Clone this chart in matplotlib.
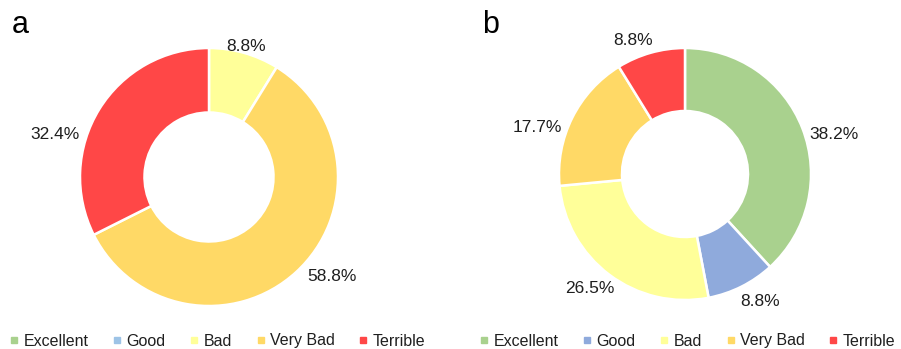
import matplotlib
matplotlib.use("Agg")
import matplotlib.pyplot as plt
from matplotlib.lines import Line2D

plt.rcParams['font.family'] = ['Liberation Sans', 'DejaVu Sans']

categories = ["Excellent", "Good", "Bad", "Very Bad", "Terrible"]
values_a = [0.0, 0.0, 8.8, 58.8, 32.4]
values_b = [38.2, 8.8, 26.5, 17.7, 8.8]

colors_a = ["#A9D18E", "#9DC3E6", "#FFFF99", "#FFD966", "#FF4747"]
colors_b = ["#A9D18E", "#8FAADC", "#FFFF99", "#FFD966", "#FF4747"]

# label anchor points (in units of the pie radius), one per category
label_pos_a = [None, None, (0.287, 1.008), (0.953, -0.775), (-1.194, 0.326)]
label_pos_b = [(1.183, 0.317), (0.595, -1.008), (-0.754, -0.905),
               (-1.175, 0.373), (-0.413, 1.063)]

W, H = 901, 349
fig = plt.figure(figsize=(W / 100, H / 100), dpi=100)
text_color = "#1f1f1f"


def donut(center, radius, values, colors, label_pos, tag, tag_xy, legend_x):
    cx, cy = center
    ax = fig.add_axes([(cx - radius) / W, (H - cy - radius) / H,
                       2 * radius / W, 2 * radius / H])
    ax.pie(values, colors=colors, startangle=90, counterclock=False,
           radius=1.0, normalize=True,
           wedgeprops=dict(width=0.5, edgecolor="white", linewidth=1.8))
    ax.set_xlim(-1, 1)
    ax.set_ylim(-1, 1)
    ax.set_aspect("equal")
    ax.axis("off")
    for v, pos in zip(values, label_pos):
        if v > 0 and pos is not None:
            ax.text(pos[0], pos[1], f"{v:.1f}%", ha="center", va="center",
                    fontsize=12.5, color=text_color, clip_on=False)
    fig.text(tag_xy[0] / W, 1 - tag_xy[1] / H, tag, fontsize=22,
             ha="left", va="center", color="black")
    handles = [Line2D([], [], marker="s", linestyle="none", markersize=5,
                      markerfacecolor=c, markeredgecolor=c) for c in colors]
    fig.legend(handles, categories, loc="center left",
               bbox_to_anchor=(legend_x / W, 1 - 341 / H), ncol=5,
               frameon=False, fontsize=11.5, handlelength=0.5,
               handletextpad=0.35, columnspacing=1.53, borderaxespad=0,
               borderpad=0, labelcolor=text_color)


donut((209, 177), 129, values_a, colors_a, label_pos_a, "a", (12, 25), 10)
donut((685, 174), 126, values_b, colors_b, label_pos_b, "b", (482, 25), 480)

fig.savefig("out.png", dpi=100)
